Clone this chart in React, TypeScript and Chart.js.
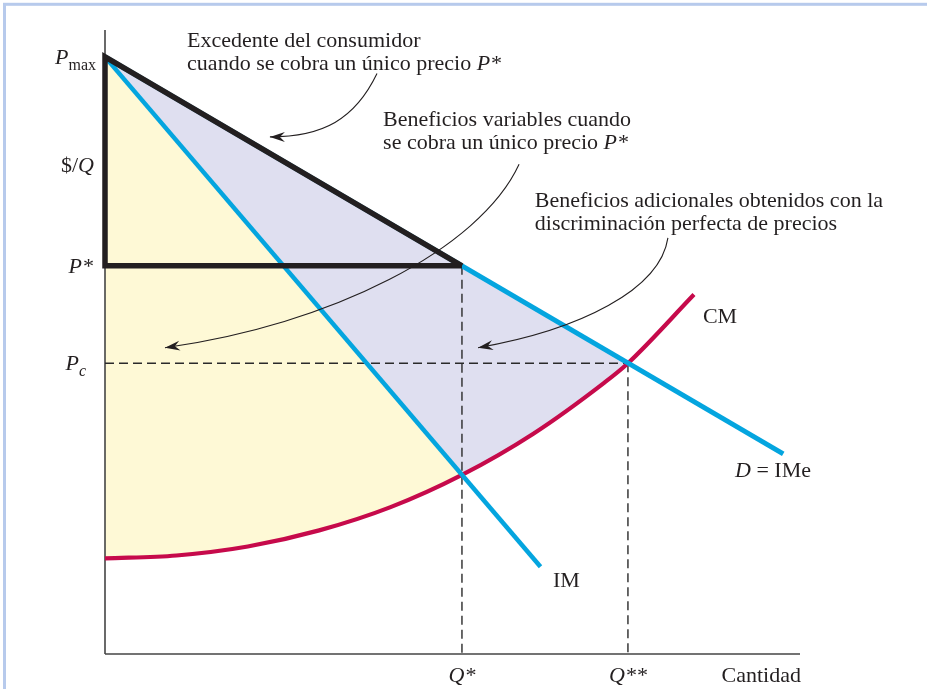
import React, { useEffect, useRef } from "react";
import { Chart, registerables } from "chart.js";

Chart.register(...registerables);

// ---- Key levels (price units / quantity units) ----
const P_MAX = 10;
const P_STAR = 6.5;
const P_C = 4.87;
const Q_STAR = 10;
const Q_STAR2 = 14.65;

// Demand (D = IMe)
const demandQ = [0, 19];
const demandP = [10, 3.35];
// Marginal revenue (IM)
const mrQ = [0, 12.2];
const mrP = [10, 1.46];
// Marginal cost (CM)
const mcQ = [0, 2, 4, 6, 8, 10, 12, 14, 14.65, 16.5];
const mcP = [1.6, 1.65, 1.8, 2.07, 2.46, 3.0, 3.69, 4.55, 4.87, 6.02];

const X_MAX = 19.47;
const Y_MAX = 10.45;

const FONT = '"Liberation Serif", "Times New Roman", serif';
const FS = 22;
const INK = "#231f20";
const BLUE = "#04a5df";
const RED = "#c60a4b";
const YELLOW = "#fef9d6";
const LAVENDER = "#dfdff0";
const DASH = "#2a2a2a";

type Part = { t: string; i?: boolean; sub?: boolean };

function drawRich(
  ctx: CanvasRenderingContext2D,
  parts: Part[],
  x: number,
  y: number,
  align: "left" | "right" | "center",
  size = FS
) {
  const fontFor = (p: Part) =>
    `${p.i ? "italic " : ""}${p.sub ? Math.round(size * 0.74) : size}px ${FONT}`;
  let w = 0;
  for (const p of parts) {
    ctx.font = fontFor(p);
    w += ctx.measureText(p.t).width;
  }
  let cx = align === "left" ? x : align === "right" ? x - w : x - w / 2;
  ctx.textAlign = "left";
  ctx.textBaseline = "alphabetic";
  ctx.fillStyle = INK;
  for (const p of parts) {
    ctx.font = fontFor(p);
    ctx.fillText(p.t, cx, y + (p.sub ? size * 0.27 : 0));
    cx += ctx.measureText(p.t).width;
  }
}

const pts = (qs: number[], ps: number[]) => qs.map((q, i) => ({ x: q, y: ps[i] }));

// Annotation arrows in data coordinates: start, control1, control2, end
const arrows = [
  [[7.62, 9.72], [7.0, 8.95], [6.1, 8.66], [4.62, 8.66]],
  [[11.6, 8.2], [10.5, 6.77], [6.3, 5.51], [1.68, 5.13]],
  [[15.77, 6.97], [15.55, 6.1], [13.31, 5.43], [10.45, 5.13]],
];

const decorPlugin = {
  id: "decor",
  beforeDraw(chart: any) {
    const ctx = chart.ctx as CanvasRenderingContext2D;
    ctx.save();
    ctx.fillStyle = "#ffffff";
    ctx.fillRect(0, 0, chart.width, chart.height);
    ctx.strokeStyle = "#b7caec";
    ctx.lineWidth = 3;
    ctx.strokeRect(4.5, 4.3, chart.width + 50, chart.height + 50);
    ctx.restore();
  },
  afterDraw(chart: any) {
    const ctx = chart.ctx as CanvasRenderingContext2D;
    const xs = chart.scales.x;
    const ys = chart.scales.y;
    const px = (v: number) => xs.getPixelForValue(v);
    const py = (v: number) => ys.getPixelForValue(v);
    const left = chart.chartArea.left;
    const bottom = chart.chartArea.bottom;
    ctx.save();

    // y-axis labels
    drawRich(ctx, [{ t: "P", i: true }, { t: "max", sub: true }], left - 9, py(P_MAX) + 7, "right");
    drawRich(ctx, [{ t: "$/" }, { t: "Q", i: true }], left - 11, py(8.19) + 7, "right");
    drawRich(ctx, [{ t: "P*", i: true }], left - 12, py(P_STAR) + 7, "right");
    drawRich(ctx, [{ t: "P", i: true }, { t: "c", i: true, sub: true }], left - 19, py(P_C) + 7, "right");

    // x-axis labels
    drawRich(ctx, [{ t: "Q*", i: true }], px(Q_STAR), bottom + 28, "center");
    drawRich(ctx, [{ t: "Q**", i: true }], px(Q_STAR2), bottom + 28, "center");
    drawRich(ctx, [{ t: "Cantidad" }], chart.chartArea.right + 1, bottom + 28, "right");

    // curve labels
    drawRich(ctx, [{ t: "CM" }], px(16.75), py(5.54), "left");
    drawRich(ctx, [{ t: "D", i: true }, { t: " = IMe" }], px(17.65), py(2.96), "left");
    drawRich(ctx, [{ t: "IM" }], px(12.55), py(1.12), "left");

    // annotation texts
    drawRich(ctx, [{ t: "Excedente del consumidor" }], px(2.3), py(10.17), "left");
    drawRich(ctx, [{ t: "cuando se cobra un único precio " }, { t: "P*", i: true }], px(2.3), py(10.17) + 23, "left");
    drawRich(ctx, [{ t: "Beneficios variables cuando" }], px(7.79), py(8.84), "left");
    drawRich(ctx, [{ t: "se cobra un único precio " }, { t: "P*", i: true }], px(7.79), py(8.84) + 23, "left");
    drawRich(ctx, [{ t: "Beneficios adicionales obtenidos con la" }], px(12.04), py(7.49), "left");
    drawRich(ctx, [{ t: "discriminación perfecta de precios" }], px(12.04), py(7.49) + 23, "left");

    // arrows
    ctx.strokeStyle = INK;
    ctx.fillStyle = INK;
    ctx.lineWidth = 1.1;
    for (const a of arrows) {
      const p = a.map(([q, v]) => [px(q), py(v)]);
      ctx.beginPath();
      ctx.moveTo(p[0][0], p[0][1]);
      ctx.bezierCurveTo(p[1][0], p[1][1], p[2][0], p[2][1], p[3][0], p[3][1]);
      ctx.stroke();
      const dx = p[3][0] - p[2][0];
      const dy = p[3][1] - p[2][1];
      const len = Math.hypot(dx, dy);
      const ux = dx / len;
      const uy = dy / len;
      const tx = p[3][0];
      const ty = p[3][1];
      ctx.beginPath();
      ctx.moveTo(tx, ty);
      ctx.lineTo(tx - ux * 15 - uy * 5, ty - uy * 15 + ux * 5);
      ctx.lineTo(tx - ux * 10, ty - uy * 10);
      ctx.lineTo(tx - ux * 15 + uy * 5, ty - uy * 15 - ux * 5);
      ctx.closePath();
      ctx.fill();
    }
    ctx.restore();
  },
};

export default function App() {
  const ref = useRef<HTMLCanvasElement | null>(null);

  useEffect(() => {
    if (!ref.current) return;
    const demand = pts(demandQ, demandP);
    const mr = pts(mrQ, mrP);
    const mc = pts(mcQ, mcP);
    const mcLow = mc.filter((p) => p.x <= Q_STAR);
    const mcMid = mc.filter((p) => p.x <= Q_STAR2);
    const mcAtQStar = mcP[mcQ.indexOf(Q_STAR)];

    const hidden = {
      borderColor: "transparent",
      borderWidth: 1,
      pointRadius: 0,
    };
    const dashed = {
      borderColor: DASH,
      borderWidth: 1.4,
      borderDash: [9, 5],
      pointRadius: 0,
      fill: false,
      clip: false,
      order: 4,
    };

    const chart = new Chart(ref.current, {
      type: "line",
      data: {
        datasets: [
          // 0: black triangle (consumer surplus outline)
          {
            data: [
              { x: Q_STAR, y: P_STAR },
              { x: 0, y: P_STAR },
              { x: 0, y: P_MAX },
              { x: Q_STAR, y: P_STAR },
            ],
            borderColor: INK,
            borderWidth: 5.5,
            borderJoinStyle: "miter",
            pointRadius: 0,
            tension: 0,
            fill: false,
            clip: false,
            order: 0,
          },
          // 1: demand
          {
            data: demand,
            borderColor: BLUE,
            borderWidth: 5,
            pointRadius: 0,
            tension: 0,
            fill: false,
            clip: false,
            order: 2,
          },
          // 2: marginal revenue
          {
            data: mr,
            borderColor: BLUE,
            borderWidth: 4.5,
            pointRadius: 0,
            tension: 0,
            fill: false,
            clip: false,
            order: 1,
          },
          // 3: marginal cost
          {
            data: mc,
            borderColor: RED,
            borderWidth: 4.2,
            pointRadius: 0,
            cubicInterpolationMode: "monotone",
            fill: false,
            clip: false,
            order: 3,
          },
          // 4-6: dashed guides
          { data: [{ x: 0, y: P_C }, { x: Q_STAR2, y: P_C }], ...dashed },
          { data: [{ x: Q_STAR, y: P_STAR }, { x: Q_STAR, y: 0 }], ...dashed },
          { data: [{ x: Q_STAR2, y: P_C }, { x: Q_STAR2, y: 0 }], ...dashed },
          // 7: yellow area upper edge (IM from 0 to Q*)
          {
            data: [
              { x: 0, y: P_MAX },
              { x: Q_STAR, y: mcAtQStar },
            ],
            ...hidden,
            backgroundColor: YELLOW,
            fill: 8,
            order: 10,
          },
          // 8: yellow area lower edge (CM from 0 to Q*)
          {
            data: mcLow,
            ...hidden,
            cubicInterpolationMode: "monotone",
            fill: false,
            order: 10,
          },
          // 9: lavender area upper edge (D from 0 to Q**)
          {
            data: [
              { x: 0, y: P_MAX },
              { x: Q_STAR2, y: P_C },
            ],
            ...hidden,
            backgroundColor: LAVENDER,
            fill: 10,
            order: 20,
          },
          // 10: lavender area lower edge (CM from 0 to Q**)
          {
            data: mcMid,
            ...hidden,
            cubicInterpolationMode: "monotone",
            fill: false,
            order: 20,
          },
          // 11: x axis
          {
            data: [
              { x: 0, y: 0 },
              { x: X_MAX, y: 0 },
            ],
            borderColor: "#444444",
            borderWidth: 1.6,
            pointRadius: 0,
            fill: false,
            clip: false,
            order: 6,
          },
          // 12: y axis
          {
            data: [
              { x: 0, y: 0 },
              { x: 0, y: Y_MAX },
            ],
            borderColor: "#444444",
            borderWidth: 1.6,
            pointRadius: 0,
            fill: false,
            clip: false,
            order: 6,
          },
        ] as any,
      },
      options: {
        animation: false,
        responsive: false,
        maintainAspectRatio: false,
        layout: { padding: { left: 105, right: 127, top: 30, bottom: 35 } },
        scales: {
          x: { type: "linear", min: 0, max: X_MAX, display: false },
          y: { type: "linear", min: 0, max: Y_MAX, display: false },
        },
        plugins: {
          legend: { display: false },
          tooltip: { enabled: false },
          filler: { propagate: false },
        },
        elements: { point: { radius: 0 } },
      } as any,
      plugins: [decorPlugin],
    });
    return () => chart.destroy();
  }, []);

  return (
    <div style={{ position: "absolute", left: 0, top: 0, width: 927, height: 689 }}>
      <canvas ref={ref} width={927} height={689} style={{ display: "block" }} />
    </div>
  );
}
